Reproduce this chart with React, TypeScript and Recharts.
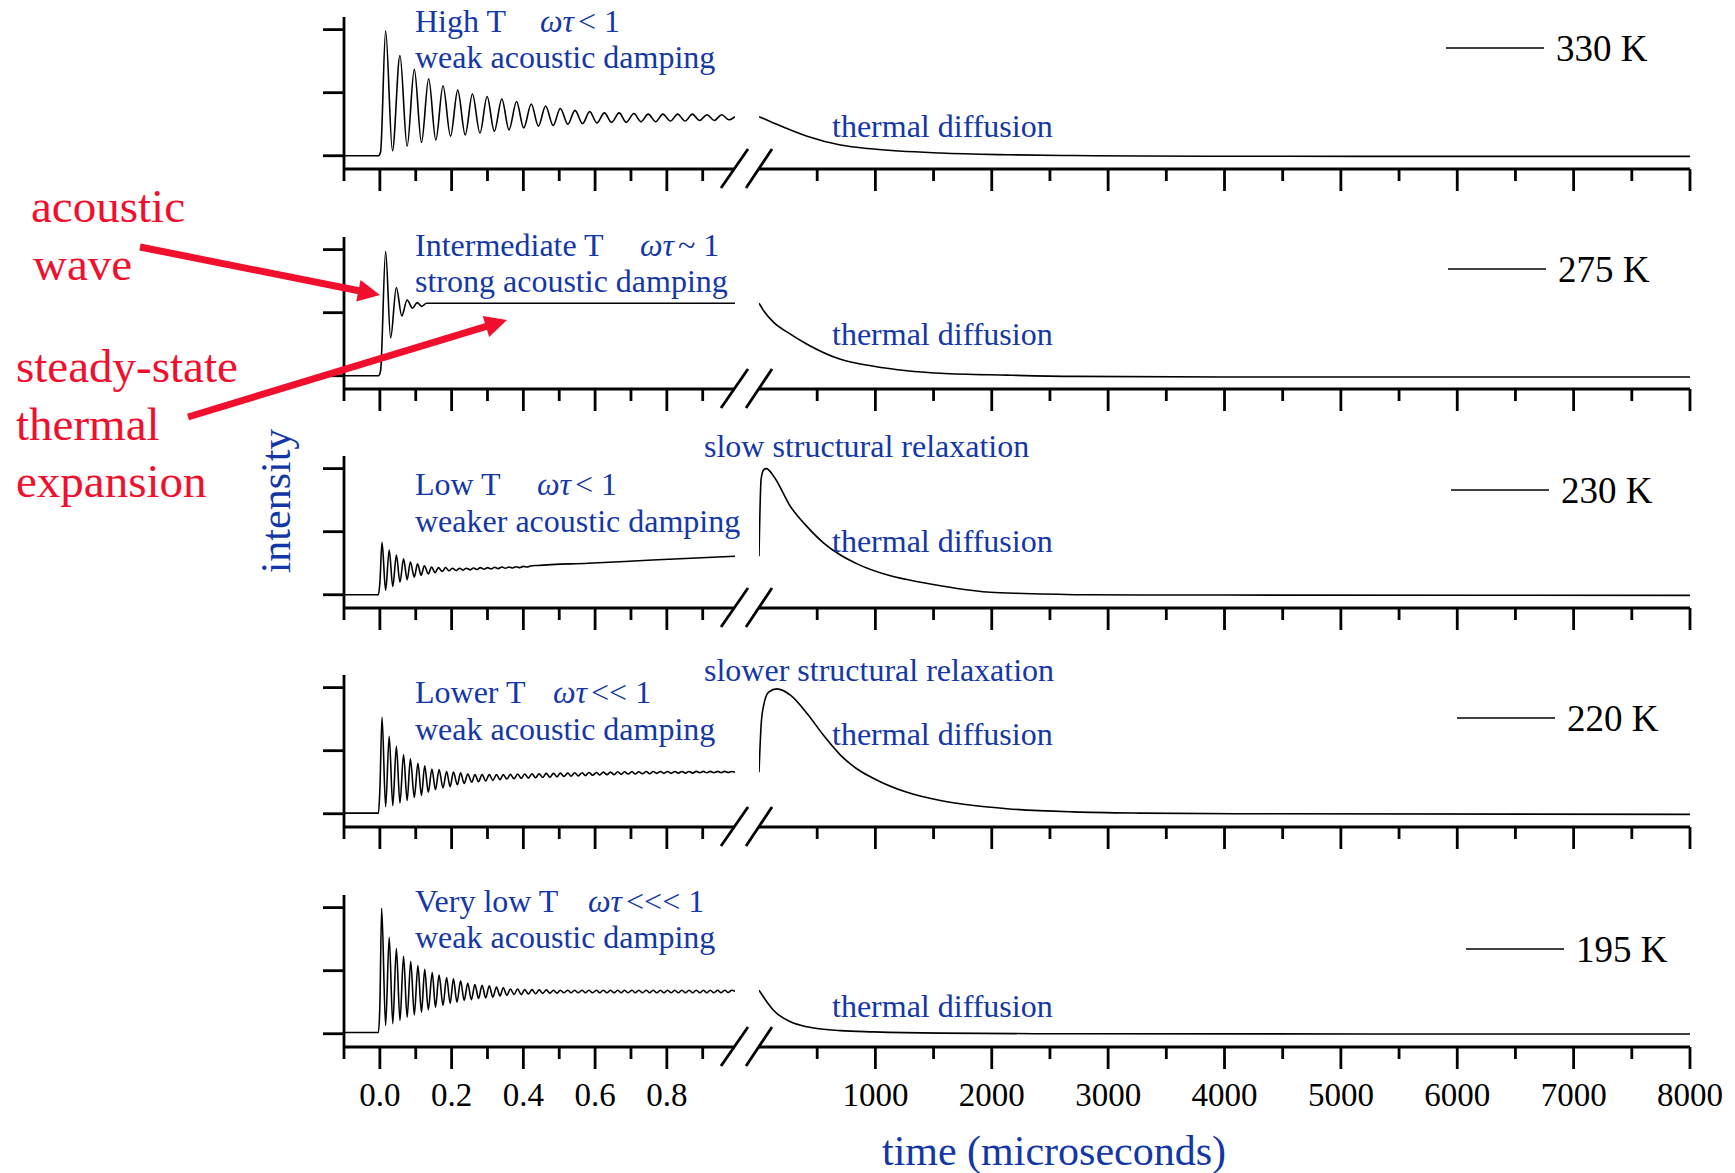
import React from "react";
import { LineChart, Line, XAxis, YAxis } from "recharts";

type Pt = [number, number];

// [time, intensity]; left part in microseconds 0..1, right part 0..8000
const left330: Pt[] = [
  [-0.1, 0], [-0.004, 0], [0.002, 0.06], [0.016, 1.98], [0.035, 0.08], [0.056, 1.59], [0.076, 0.15],
  [0.096, 1.37], [0.116, 0.21], [0.136, 1.22], [0.156, 0.25], [0.176, 1.11], [0.197, 0.31], [0.217, 1.04],
  [0.238, 0.33], [0.258, 0.98], [0.279, 0.36], [0.299, 0.94], [0.319, 0.39], [0.34, 0.9], [0.36, 0.41],
  [0.381, 0.86], [0.401, 0.44], [0.422, 0.82], [0.442, 0.47], [0.462, 0.79], [0.483, 0.48], [0.503, 0.75],
  [0.524, 0.5], [0.544, 0.72], [0.565, 0.51], [0.585, 0.7], [0.605, 0.52], [0.626, 0.68], [0.646, 0.53],
  [0.667, 0.68], [0.687, 0.53], [0.708, 0.67], [0.728, 0.54], [0.748, 0.66], [0.769, 0.54], [0.789, 0.66],
  [0.81, 0.55], [0.83, 0.66], [0.851, 0.55], [0.871, 0.66], [0.891, 0.56], [0.912, 0.65], [0.932, 0.56],
  [0.953, 0.65], [0.973, 0.57], [0.99, 0.62],
];
const right330: Pt[] = [
  [0, 0.62], [124, 0.52], [413, 0.31], [700, 0.17], [985, 0.106], [1558, 0.043], [2131, 0.016],
  [2703, 0.003], [3276, -0.005], [4500, -0.008], [6000, -0.01], [8000, -0.01],
];

const left275: Pt[] = [
  [-0.1, 0], [-0.004, 0], [0.002, 0.08], [0.016, 1.97], [0.03, 0.6], [0.046, 1.4], [0.061, 0.95],
  [0.076, 1.2], [0.091, 1.07], [0.104, 1.16], [0.117, 1.1], [0.13, 1.15], [0.2, 1.15], [0.5, 1.15],
  [0.8, 1.15], [0.99, 1.15],
];
const right275: Pt[] = [
  [0, 1.15], [40, 1.03], [124, 0.85], [270, 0.66], [413, 0.5], [700, 0.26], [985, 0.15], [1272, 0.08],
  [1558, 0.04], [2131, 0.01], [2703, -0.01], [4000, -0.02], [8000, -0.02],
];

const left230: Pt[] = [
  [-0.1, 0], [-0.004, 0], [0, 0.19], [0.006, 0.83], [0.016, 0.07], [0.026, 0.71], [0.036, 0.13],
  [0.046, 0.63], [0.056, 0.2], [0.066, 0.57], [0.076, 0.24], [0.085, 0.52], [0.096, 0.28], [0.105, 0.49],
  [0.115, 0.31], [0.124, 0.46], [0.135, 0.33], [0.144, 0.44], [0.154, 0.35], [0.163, 0.43], [0.174, 0.37],
  [0.183, 0.43], [0.193, 0.38], [0.202, 0.42], [0.213, 0.385], [0.222, 0.42], [0.232, 0.39], [0.241, 0.42],
  [0.252, 0.395], [0.261, 0.425], [0.271, 0.4], [0.28, 0.43], [0.291, 0.405], [0.3, 0.43], [0.31, 0.41],
  [0.32, 0.435], [0.33, 0.415], [0.34, 0.44], [0.35, 0.42], [0.36, 0.44], [0.37, 0.425], [0.38, 0.445],
  [0.39, 0.43], [0.4, 0.45], [0.41, 0.44], [0.42, 0.455], [0.44, 0.465], [0.58, 0.5], [0.76, 0.55],
  [0.99, 0.61],
];
const right230: Pt[] = [
  [0, 0.61], [18, 1.83], [40, 1.98], [64, 2.0], [126, 1.88], [270, 1.4], [413, 1.08], [556, 0.82],
  [700, 0.63], [843, 0.49], [1129, 0.3], [1415, 0.19], [1702, 0.1], [1988, 0.04], [2274, 0.02],
  [2850, 0], [4000, -0.005], [8000, -0.01],
];

const left220: Pt[] = [
  [-0.1, 0.01], [-0.004, 0.01], [0, 0.38], [0.006, 1.53], [0.016, 0.11], [0.026, 1.23], [0.036, 0.13],
  [0.046, 1.07], [0.056, 0.17], [0.066, 0.94], [0.076, 0.21], [0.085, 0.87], [0.096, 0.26], [0.106, 0.8],
  [0.116, 0.29], [0.125, 0.76], [0.135, 0.34], [0.145, 0.71], [0.155, 0.38], [0.165, 0.7], [0.176, 0.41],
  [0.186, 0.67], [0.196, 0.43], [0.205, 0.66], [0.216, 0.46], [0.225, 0.65], [0.235, 0.48], [0.245, 0.63],
  [0.256, 0.5], [0.265, 0.62], [0.275, 0.51], [0.285, 0.62], [0.295, 0.52], [0.305, 0.62], [0.315, 0.53],
  [0.325, 0.62], [0.335, 0.54], [0.344, 0.62], [0.354, 0.55], [0.364, 0.625], [0.374, 0.555], [0.384, 0.63],
  [0.394, 0.56], [0.404, 0.63], [0.414, 0.565], [0.424, 0.635], [0.434, 0.57], [0.444, 0.635], [0.454, 0.575],
  [0.464, 0.64], [0.474, 0.58], [0.484, 0.64], [0.494, 0.585], [0.503, 0.645], [0.513, 0.59], [0.524, 0.645],
  [0.533, 0.595], [0.543, 0.65], [0.553, 0.6], [0.564, 0.65], [0.573, 0.605], [0.583, 0.655], [0.593, 0.61],
  [0.604, 0.655], [0.613, 0.615], [0.623, 0.66], [0.633, 0.62], [0.643, 0.66], [0.653, 0.62], [0.663, 0.665],
  [0.673, 0.625], [0.682, 0.665], [0.692, 0.63], [0.703, 0.665], [0.712, 0.63], [0.722, 0.665], [0.732, 0.635],
  [0.743, 0.67], [0.752, 0.635], [0.762, 0.67], [0.772, 0.64], [0.782, 0.67], [0.792, 0.64], [0.802, 0.67],
  [0.812, 0.64], [0.822, 0.67], [0.832, 0.645], [0.842, 0.67], [0.852, 0.645], [0.862, 0.67], [0.872, 0.645],
  [0.882, 0.672], [0.892, 0.65], [0.902, 0.672], [0.911, 0.65], [0.921, 0.672], [0.931, 0.65], [0.942, 0.672],
  [0.951, 0.652], [0.961, 0.672], [0.971, 0.655], [0.981, 0.67], [0.99, 0.66],
];
const right220: Pt[] = [
  [0, 0.66], [18, 1.4], [40, 1.72], [83, 1.93], [155, 1.98], [270, 1.88], [413, 1.59], [556, 1.24],
  [700, 0.93], [843, 0.71], [985, 0.56], [1272, 0.34], [1558, 0.21], [1845, 0.13], [2131, 0.08],
  [2703, 0.03], [3276, 0.01], [4100, 0], [8000, -0.01],
];

const left195: Pt[] = [
  [-0.1, 0.02], [-0.004, 0.02], [0, 0.45], [0.005, 1.99], [0.016, 0.13], [0.026, 1.53], [0.036, 0.16],
  [0.046, 1.35], [0.056, 0.21], [0.066, 1.23], [0.076, 0.26], [0.086, 1.15], [0.096, 0.3], [0.106, 1.08],
  [0.116, 0.34], [0.125, 1.02], [0.135, 0.38], [0.146, 0.97], [0.155, 0.42], [0.165, 0.93], [0.176, 0.45],
  [0.186, 0.89], [0.196, 0.48], [0.205, 0.87], [0.215, 0.5], [0.225, 0.84], [0.235, 0.53], [0.245, 0.8],
  [0.255, 0.54], [0.265, 0.78], [0.275, 0.56], [0.285, 0.77], [0.295, 0.57], [0.305, 0.76], [0.315, 0.58],
  [0.325, 0.74], [0.335, 0.6], [0.344, 0.73], [0.354, 0.61], [0.364, 0.71], [0.374, 0.62], [0.384, 0.71],
  [0.394, 0.62], [0.404, 0.7], [0.414, 0.63], [0.424, 0.7], [0.434, 0.635], [0.444, 0.695], [0.454, 0.64],
  [0.464, 0.695], [0.474, 0.645], [0.484, 0.69], [0.494, 0.645], [0.503, 0.69], [0.513, 0.65], [0.524, 0.69],
  [0.533, 0.65], [0.543, 0.69], [0.553, 0.65], [0.564, 0.69], [0.573, 0.65], [0.583, 0.69], [0.593, 0.65],
  [0.604, 0.69], [0.613, 0.65], [0.623, 0.69], [0.633, 0.65], [0.643, 0.69], [0.653, 0.65], [0.663, 0.69],
  [0.673, 0.65], [0.682, 0.69], [0.692, 0.65], [0.703, 0.69], [0.712, 0.65], [0.722, 0.69], [0.732, 0.65],
  [0.743, 0.69], [0.752, 0.65], [0.762, 0.69], [0.772, 0.65], [0.782, 0.69], [0.792, 0.65], [0.802, 0.69],
  [0.812, 0.65], [0.822, 0.69], [0.832, 0.65], [0.842, 0.69], [0.852, 0.65], [0.862, 0.69], [0.872, 0.65],
  [0.882, 0.69], [0.892, 0.65], [0.902, 0.69], [0.911, 0.65], [0.921, 0.69], [0.931, 0.65], [0.942, 0.69],
  [0.951, 0.65], [0.961, 0.69], [0.971, 0.655], [0.981, 0.69], [0.99, 0.675],
];
const right195: Pt[] = [
  [0, 0.69], [70, 0.5], [126, 0.37], [270, 0.19], [413, 0.11], [700, 0.05], [985, 0.03], [1558, 0.01],
  [2703, 0], [8000, -0.005],
];

const leftSeries = [left330, left275, left230, left220, left195];
const rightSeries = [right330, right275, right230, right220, right195];

const temps = ["330 K", "275 K", "230 K", "220 K", "195 K"];
const regimes = ["High T", "Intermediate T", "Low T", "Lower T", "Very low T"];
const relations = ["< 1", "~ 1", "< 1", "<< 1", "<<< 1"];
const dampings = [
  "weak acoustic damping",
  "strong acoustic damping",
  "weaker acoustic damping",
  "weak acoustic damping",
  "weak acoustic damping",
];
const relaxations = ["", "", "slow structural relaxation", "slower structural relaxation", ""];

const leftTicks = [-0.1, 0, 0.1, 0.2, 0.3, 0.4, 0.5, 0.6, 0.7, 0.8, 0.9];
const rightTicks = [500, 1000, 1500, 2000, 2500, 3000, 3500, 4000, 4500, 5000, 5500, 6000, 6500, 7000, 7500, 8000];
const yTicks = [0, 1, 2];

// layout
const SERIF = "'Liberation Serif', 'Times New Roman', serif";
const BLUE = "#1437a8";
const RED = "#f0102e";
const Y_DOMAIN: [number, number] = [-0.21, 2.2];
const PLOT_TOPS = [17, 237, 456, 675, 895];
const PLOT_H = 152;
const regimeY = [32, 256, 495, 703, 912];
const dampingY = [68, 292, 532, 740, 948];
const omegaX = [540, 640, 537, 553, 588];
const diffusionY = [137, 345, 552, 745, 1017];
const relaxY = [0, 0, 457, 681, 0];
const legendX = [1446, 1448, 1451, 1457, 1466];
const legendY = [48, 269, 490, 718, 949];

const rows = (pts: Pt[]) => pts.map(([t, v]) => ({ t, v }));

const XTick = (props: any) => {
  const { x, y, payload, side, showLabel } = props;
  const v = payload.value;
  const major = side === "left" ? v >= 0 && Math.round(v * 10) % 2 === 0 : v % 1000 === 0;
  const label = side === "left" ? v.toFixed(1) : String(v);
  return (
    <g>
      <line x1={x} y1={y} x2={x} y2={y + (major ? 22 : 12)} stroke="#000" strokeWidth={2.8} />
      {showLabel && major && (
        <text x={x} y={y + 59} textAnchor="middle" fontSize={33} fontFamily={SERIF} fill="#000">
          {label}
        </text>
      )}
    </g>
  );
};

const YTick = (props: any) => {
  const { x, y } = props;
  return <line x1={x - 21} y1={y} x2={x} y2={y} stroke="#000" strokeWidth={2.8} />;
};

const axisLine = { stroke: "#000", strokeWidth: 2.8 };

const Panel = ({ i }: { i: number }) => {
  const top = PLOT_TOPS[i] - 10;
  const showLabel = i === 4;
  return (
    <>
      <div style={{ position: "absolute", left: 314, top }}>
        <LineChart width={423} height={PLOT_H + 80} data={rows(leftSeries[i])} margin={{ top: 10, right: 2, bottom: 0, left: 5 }}>
          <XAxis
            dataKey="t"
            type="number"
            domain={[-0.1, 0.99]}
            ticks={leftTicks}
            interval={0}
            allowDataOverflow
            height={70}
            axisLine={axisLine}
            tickLine={false}
            tickSize={0}
            tickMargin={0}
            tick={(p: any) => <XTick {...p} side="left" showLabel={showLabel} />}
          />
          <YAxis
            type="number"
            domain={Y_DOMAIN}
            ticks={yTicks}
            interval={0}
            allowDataOverflow
            width={25}
            axisLine={axisLine}
            tickLine={false}
            tickSize={0}
            tickMargin={0}
            tick={(p: any) => <YTick {...p} />}
          />
          <Line dataKey="v" type="monotone" stroke="#000" strokeWidth={1.6} dot={false} isAnimationActive={false} />
        </LineChart>
      </div>
      <div style={{ position: "absolute", left: 754, top }}>
        <LineChart width={976} height={PLOT_H + 80} data={rows(rightSeries[i])} margin={{ top: 10, right: 40, bottom: 0, left: 5 }}>
          <XAxis
            dataKey="t"
            type="number"
            domain={[0, 8000]}
            ticks={rightTicks}
            interval={0}
            allowDataOverflow
            height={70}
            axisLine={axisLine}
            tickLine={false}
            tickSize={0}
            tickMargin={0}
            tick={(p: any) => <XTick {...p} side="right" showLabel={showLabel} />}
          />
          <YAxis hide type="number" domain={Y_DOMAIN} allowDataOverflow />
          <Line dataKey="v" type="monotone" stroke="#000" strokeWidth={1.6} dot={false} isAnimationActive={false} />
        </LineChart>
      </div>
    </>
  );
};

const Arrow = ({ x1, y1, x2, y2 }: { x1: number; y1: number; x2: number; y2: number }) => {
  const len = Math.hypot(x2 - x1, y2 - y1);
  const ux = (x2 - x1) / len;
  const uy = (y2 - y1) / len;
  const hl = 22;
  const hw = 11;
  const bx = x2 - ux * hl;
  const by = y2 - uy * hl;
  return (
    <g>
      <line x1={x1} y1={y1} x2={bx + ux * 3} y2={by + uy * 3} stroke={RED} strokeWidth={7} />
      <polygon points={`${x2},${y2} ${bx - uy * hw},${by + ux * hw} ${bx + uy * hw},${by - ux * hw}`} fill={RED} />
    </g>
  );
};

const Overlay = () => (
  <svg width={1735} height={1173} style={{ position: "absolute", left: 0, top: 0, pointerEvents: "none" }} fontFamily={SERIF}>
    {PLOT_TOPS.map((pt, i) => {
      const ay = pt + PLOT_H;
      return (
        <g key={i}>
          <line x1={721} y1={ay + 19} x2={748} y2={ay - 20} stroke="#000" strokeWidth={2.8} />
          <line x1={746} y1={ay + 19} x2={772} y2={ay - 20} stroke="#000" strokeWidth={2.8} />
          <text x={415} y={regimeY[i]} fontSize={32} fill={BLUE}>{regimes[i]}</text>
          <text x={omegaX[i]} y={regimeY[i]} fontSize={32} fill={BLUE}>
            <tspan fontStyle="italic">ωτ</tspan>
            <tspan dx={4}>{relations[i]}</tspan>
          </text>
          <text x={415} y={dampingY[i]} fontSize={32} fill={BLUE}>{dampings[i]}</text>
          <text x={832} y={diffusionY[i]} fontSize={32} fill={BLUE}>thermal diffusion</text>
          {relaxations[i] && (
            <text x={704} y={relaxY[i]} fontSize={32} fill={BLUE}>{relaxations[i]}</text>
          )}
          <line x1={legendX[i]} y1={legendY[i]} x2={legendX[i] + 98} y2={legendY[i]} stroke="#000" strokeWidth={1.3} />
          <text x={legendX[i] + 110} y={legendY[i] + 13} fontSize={37} fill="#000">{temps[i]}</text>
        </g>
      );
    })}
    <text x={290} y={501} fontSize={42} fill={BLUE} textAnchor="middle" transform="rotate(-90 290 501)">intensity</text>
    <text x={1054} y={1165} fontSize={42} fill={BLUE} textAnchor="middle">time (microseconds)</text>
    <text x={31} y={222} fontSize={47} fill={RED}>acoustic</text>
    <text x={33} y={280} fontSize={47} fill={RED}>wave</text>
    <text x={16} y={382} fontSize={47} fill={RED}>steady-state</text>
    <text x={16} y={440} fontSize={47} fill={RED}>thermal</text>
    <text x={16} y={497} fontSize={47} fill={RED}>expansion</text>
    <Arrow x1={140} y1={247} x2={380} y2={295} />
    <Arrow x1={188} y1={417} x2={507} y2={320} />
  </svg>
);

export default function App() {
  return (
    <div style={{ position: "absolute", left: 0, top: 0, width: 1735, height: 1173, background: "#fff", fontFamily: SERIF }}>
      {PLOT_TOPS.map((_, i) => (
        <Panel key={i} i={i} />
      ))}
      <Overlay />
    </div>
  );
}
